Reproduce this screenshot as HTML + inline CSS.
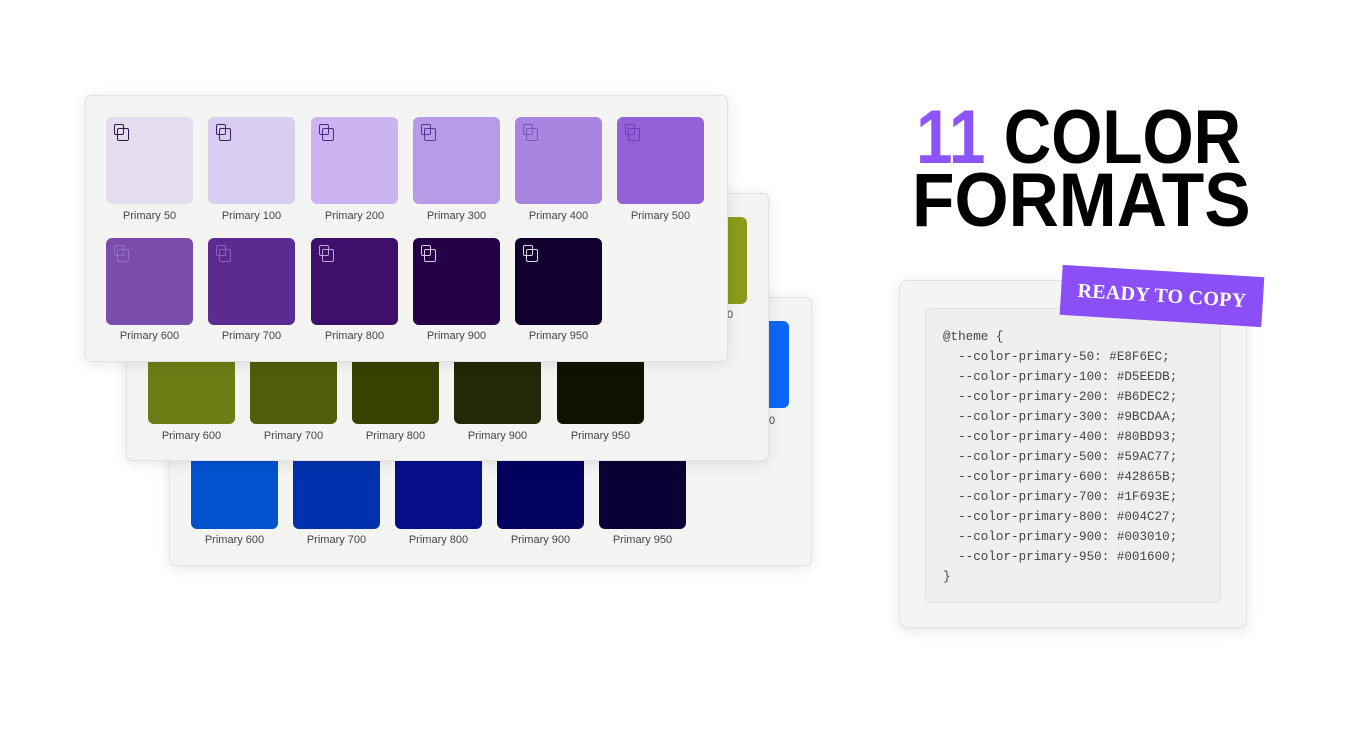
<!DOCTYPE html>
<html><head><meta charset="utf-8"><style>
*{margin:0;padding:0;box-sizing:border-box}
body{width:1369px;height:729px;background:#fff;position:relative;overflow:hidden;font-family:"Liberation Sans",sans-serif}
.card{position:absolute;width:643px;background:#f4f4f3;border:1px solid #e2e2e2;border-radius:6px;box-shadow:0 2px 14px rgba(0,0,0,.10)}
.sw{position:absolute;width:87px;height:87px;border-radius:6px}
.sw i{position:absolute;left:8px;top:7px;width:10px;height:11px;border:1.6px solid currentColor;border-radius:2px}
.sw i:after{content:"";position:absolute;left:2px;top:3px;width:10px;height:11px;border:1.6px solid currentColor;border-radius:2px;background:inherit}
.lb{position:absolute;width:87px;text-align:center;font-size:11px;color:#444}
.t{position:absolute;font-weight:bold;font-size:76px;line-height:1;transform-origin:left top;color:#000;white-space:nowrap}
</style></head><body>

<!-- blue card -->
<div class="card" style="left:169px;top:297px;height:269px">
  <div class="sw" style="left:532px;top:23px;background:#0c66f5"></div>
  <div class="lb" style="left:532px;top:117px">Primary 500</div>
  <div class="sw" style="left:21px;top:144px;background:#0352ce"></div><div class="lb" style="left:21px;top:236px">Primary 600</div>
  <div class="sw" style="left:123px;top:144px;background:#0032ae"></div><div class="lb" style="left:123px;top:236px">Primary 700</div>
  <div class="sw" style="left:225px;top:144px;background:#060e8a"></div><div class="lb" style="left:225px;top:236px">Primary 800</div>
  <div class="sw" style="left:327px;top:144px;background:#020160"></div><div class="lb" style="left:327px;top:236px">Primary 900</div>
  <div class="sw" style="left:429px;top:144px;background:#0b0035"></div><div class="lb" style="left:429px;top:236px">Primary 950</div>
</div>

<!-- green card -->
<div class="card" style="left:126px;top:193px;height:268px">
  <div class="sw" style="left:533px;top:23px;background:#8a9c1a"></div>
  <div class="lb" style="left:533px;top:115px">Primary 500</div>
  <div class="sw" style="left:21px;top:143px;background:#6d7c15"></div><div class="lb" style="left:21px;top:236px">Primary 600</div>
  <div class="sw" style="left:123px;top:143px;background:#505e0a"></div><div class="lb" style="left:123px;top:236px">Primary 700</div>
  <div class="sw" style="left:225px;top:143px;background:#374200"></div><div class="lb" style="left:225px;top:236px">Primary 800</div>
  <div class="sw" style="left:327px;top:143px;background:#212906"></div><div class="lb" style="left:327px;top:236px">Primary 900</div>
  <div class="sw" style="left:430px;top:143px;background:#0e1300"></div><div class="lb" style="left:430px;top:236px">Primary 950</div>
</div>

<!-- purple card -->
<div class="card" style="left:85px;top:95px;height:267px">
  <div class="sw" style="left:20px;top:21px;background:#e5dcf0;color:#2a1650"><i></i></div><div class="lb" style="left:20px;top:114px">Primary 50</div>
  <div class="sw" style="left:122px;top:21px;background:#dacdf2;color:#3a2070"><i></i></div><div class="lb" style="left:122px;top:114px">Primary 100</div>
  <div class="sw" style="left:225px;top:21px;background:#cbb4f1;color:#4a2a88"><i></i></div><div class="lb" style="left:225px;top:114px">Primary 200</div>
  <div class="sw" style="left:327px;top:21px;background:#b89be6;color:#5a3598"><i></i></div><div class="lb" style="left:327px;top:114px">Primary 300</div>
  <div class="sw" style="left:429px;top:21px;background:#a885e1;color:#7a55c0"><i></i></div><div class="lb" style="left:429px;top:114px">Primary 400</div>
  <div class="sw" style="left:531px;top:21px;background:#9460d8;color:#6e3cb8"><i></i></div><div class="lb" style="left:531px;top:114px">Primary 500</div>
  <div class="sw" style="left:20px;top:142px;background:#7a4cab;color:#9670c8"><i></i></div><div class="lb" style="left:20px;top:234px">Primary 600</div>
  <div class="sw" style="left:122px;top:142px;background:#5b2b91;color:#8a64b8"><i></i></div><div class="lb" style="left:122px;top:234px">Primary 700</div>
  <div class="sw" style="left:225px;top:142px;background:#3e0f6b;color:#b9a4d4"><i></i></div><div class="lb" style="left:225px;top:234px">Primary 800</div>
  <div class="sw" style="left:327px;top:142px;background:#250048;color:#d8cce6"><i></i></div><div class="lb" style="left:327px;top:234px">Primary 900</div>
  <div class="sw" style="left:429px;top:142px;background:#12002e;color:#e0d8ea"><i></i></div><div class="lb" style="left:429px;top:234px">Primary 950</div>
</div>

<!-- title -->
<div class="t" style="left:916px;top:100px;transform:scaleX(.865)"><span style="color:#8b55fa">11</span> COLOR</div>
<div class="t" style="left:912px;top:163px;transform:scaleX(.915)">FORMATS</div>

<!-- code card -->
<div style="position:absolute;left:899px;top:280px;width:348px;height:348px;background:#f4f4f4;border:1px solid #e2e2e2;border-radius:8px;box-shadow:0 3px 14px rgba(0,0,0,.10)"></div>
<div style="position:absolute;left:925px;top:308px;width:296px;height:295px;background:#efefee;border:1px solid #e4e4e4;border-radius:6px"></div>
<pre style="position:absolute;left:943px;top:327px;font-family:'Liberation Mono',monospace;font-size:12.6px;line-height:20px;color:#444">@theme {
  --color-primary-50: #E8F6EC;
  --color-primary-100: #D5EEDB;
  --color-primary-200: #B6DEC2;
  --color-primary-300: #9BCDAA;
  --color-primary-400: #80BD93;
  --color-primary-500: #59AC77;
  --color-primary-600: #42865B;
  --color-primary-700: #1F693E;
  --color-primary-800: #004C27;
  --color-primary-900: #003010;
  --color-primary-950: #001600;
}</pre>
<div style="position:absolute;left:1061px;top:271px;width:202px;height:50px;background:#8b4ff7;transform:rotate(3.5deg);transform-origin:center;color:#fff;font-family:'Liberation Serif',serif;font-weight:bold;font-size:20px;line-height:50px;text-align:center;letter-spacing:.3px">READY TO COPY</div>
</body></html>
